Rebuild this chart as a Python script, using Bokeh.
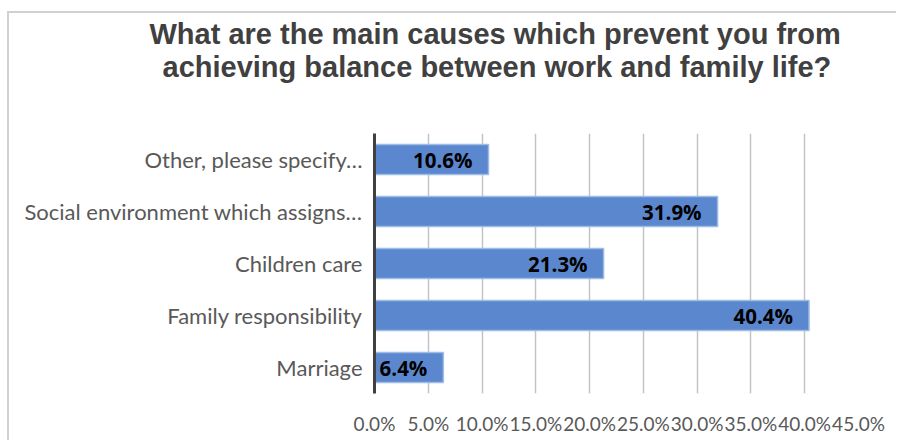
from bokeh.plotting import figure
from bokeh.models import ColumnDataSource, LabelSet, Title, Range1d, FactorRange, FixedTicker, NumeralTickFormatter
from bokeh.core.properties import value
from bokeh.embed import file_html
from bokeh.resources import INLINE

# Data (bottom to top)
categories = ["Marriage", "Family responsibility", "Children care",
              "Social environment which assigns\u2026", "Other, please specify\u2026"]
values = [0.064, 0.404, 0.213, 0.319, 0.106]
value_labels = ["6.4%", "40.4%", "21.3%", "31.9%", "10.6%"]
tick_values = [0.0, 0.05, 0.10, 0.15, 0.20, 0.25, 0.30, 0.35, 0.40, 0.45]
title_lines = ["What are the main causes which prevent you from",
               "achieving balance between work and family life?"]

src = ColumnDataSource(dict(cat=categories, val=values, lab=value_labels))

p = figure(width=889, height=429, output_backend="svg", toolbar_location=None,
           y_range=FactorRange(factors=categories), x_range=Range1d(0, 0.45),
           min_border_left=365, min_border_right=40, min_border_top=120, min_border_bottom=49)
p.margin = (11, 0, 0, 7)
p.styles = {"border-left": "2px solid #d0d0d0", "border-top": "2px solid #d0d0d0",
            "border-right": "0px none", "border-bottom": "0px none",
            "outline": "none", "box-shadow": "none"}

title_style = dict(text_font="Liberation Sans", text_font_size="29px",
                   text_font_style="bold", text_color="#404040", align="left")

# spacer between the title block and the plot frame
p.add_layout(Title(text=" ", text_font_size="14px", standoff=33), "above")
# second title line (closer to the frame), then the first line on top
p.add_layout(Title(text=title_lines[1], offset=-212, standoff=0, **title_style), "above")
p.title = Title(text=title_lines[0], offset=-225, standoff=-3, **title_style)

p.hbar(y="cat", right="val", left=0, height=0.58, source=src,
       fill_color="#5B87CE", line_color="#9DBBE6", line_width=1.5)

labels = LabelSet(y="cat", x="val", text="lab", source=src, x_offset=-16,
                  text_align="right", text_baseline="middle",
                  text_font=value("Open Sans"), text_font_size=value("20.5px"),
                  text_font_style=value("bold"), text_color="#000000")
p.add_layout(labels)

p.outline_line_color = None
p.ygrid.grid_line_color = None
p.xgrid.grid_line_color = "#c4c4c4"
p.xgrid.grid_line_width = 1.5
p.xgrid.ticker = FixedTicker(ticks=tick_values)

p.xaxis.ticker = FixedTicker(ticks=tick_values)
p.xaxis.formatter = NumeralTickFormatter(format="0.0%")
p.xaxis.axis_line_color = None
p.xaxis.major_tick_line_color = None
p.xaxis.major_tick_out = 0
p.xaxis.minor_tick_line_color = None
p.xaxis.major_label_text_font = "Lato"
p.xaxis.major_label_text_font_size = "19px"
p.xaxis.major_label_text_color = "#595959"
p.xaxis.major_label_standoff = 18

p.yaxis.axis_line_color = "#404040"
p.yaxis.axis_line_width = 3
p.yaxis.major_tick_line_color = None
p.yaxis.major_tick_out = 0
p.yaxis.minor_tick_line_color = None
p.yaxis.major_label_text_font = "Lato"
p.yaxis.major_label_text_font_size = "22px"
p.yaxis.major_label_text_color = "#595959"
p.yaxis.major_label_standoff = 12

open("out.html", "w").write(file_html(p, INLINE))
